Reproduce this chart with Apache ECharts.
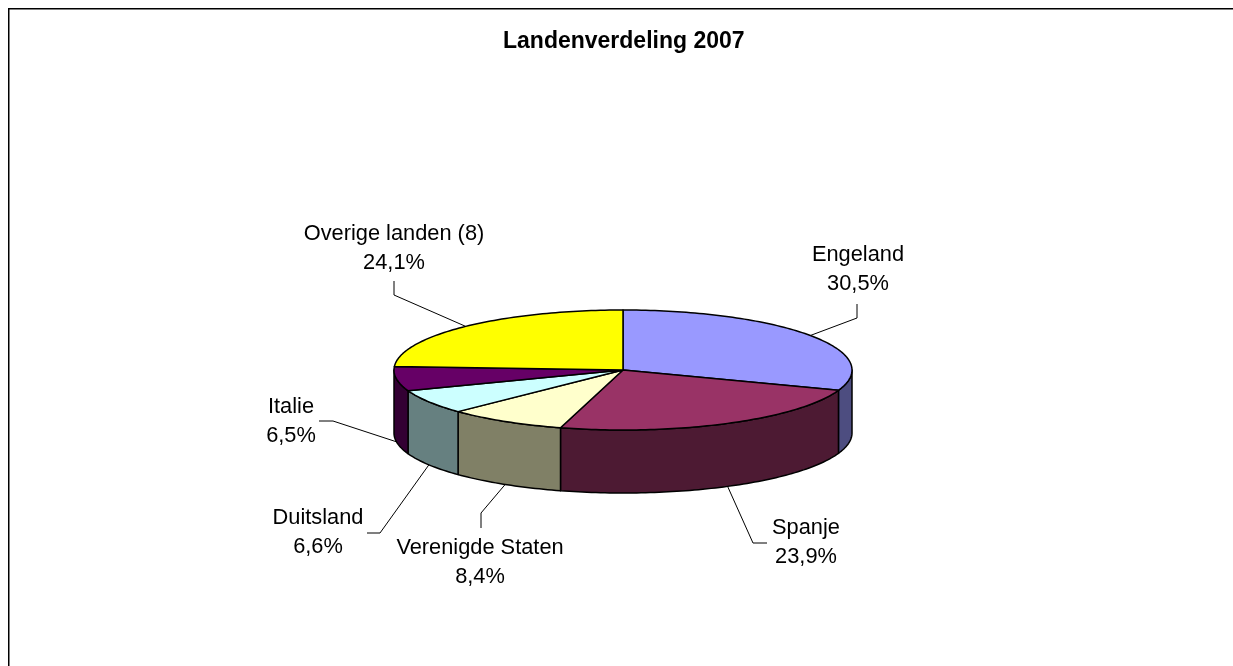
<!DOCTYPE html>
<html>
<head>
<meta charset="utf-8">
<title>Landenverdeling 2007</title>
<script src="https://cdn.jsdelivr.net/npm/echarts@6/dist/echarts.min.js"></script>
<style>
html, body { margin: 0; padding: 0; background: #fff; }
#main { width: 1233px; height: 666px; }
</style>
</head>
<body>
<div id="main"></div>
<script>
// data, clockwise from 12 o'clock
var landen = ['Engeland', 'Spanje', 'Verenigde Staten', 'Duitsland', 'Italie', 'Overige landen (8)'];
var aandelen = [30.5, 23.9, 8.4, 6.6, 6.5, 24.1];

var kleurBoven = ['#9999FF', '#993366', '#FFFFCC', '#CCFFFF', '#660066', '#FFFF00'];
var kleurZij = ['#4D4D80', '#4D1A33', '#808066', '#668080', '#330033', '#808000'];

// pie shape on the page
var cx = 623, cy = 370, rx = 229, ry = 60, dikte = 63;

// label centre and leader line bend/end per slice
var labelPos = [[858, 269], [806, 542], [480, 562], [318, 532], [291, 421], [394, 248]];
var lijnPos = [
    [[857, 318], [857, 304]],
    [[753, 543], [767, 543]],
    [[481, 513], [481, 528]],
    [[380, 533], [367, 533]],
    [[333, 421], [319, 421]],
    [[394, 295], [394, 281]]
];

var totaal = aandelen.reduce(function (a, b) { return a + b; }, 0);
var som = 0;
var rijen = aandelen.map(function (v) {
    var rij = [v, som];
    som += v;
    return rij;
});

function hoek(deel) {
    return deel / totaal * Math.PI * 2;
}

function punt(a, dy) {
    return [cx + rx * Math.sin(a), cy - ry * Math.cos(a) + (dy || 0)];
}

function boog(a, b, dy) {
    var pts = [];
    var n = Math.max(2, Math.ceil((b - a) / 0.02));
    for (var i = 0; i <= n; i++) {
        pts.push(punt(a + (b - a) * i / n, dy));
    }
    return pts;
}

function bovenkant(params, api) {
    var a = hoek(api.value(1));
    var b = hoek(api.value(1) + api.value(0));
    return {
        type: 'polygon',
        shape: { points: [[cx, cy]].concat(boog(a, b)) },
        style: { fill: kleurBoven[params.dataIndex], stroke: '#000', lineWidth: 1.5, lineJoin: 'round' }
    };
}

function zijkant(params, api) {
    // only the front half of the rim can be seen
    var a = Math.max(hoek(api.value(1)), Math.PI / 2);
    var b = Math.min(hoek(api.value(1) + api.value(0)), Math.PI * 1.5);
    if (b <= a) return null;
    return {
        type: 'polygon',
        shape: { points: boog(a, b).concat(boog(a, b, dikte).reverse()) },
        style: { fill: kleurZij[params.dataIndex], stroke: '#000', lineWidth: 1.5, lineJoin: 'round' }
    };
}

function labels(params, api) {
    var i = params.dataIndex;
    var mid = hoek(api.value(1) + api.value(0) / 2);
    var voor = Math.cos(mid) < 0;
    var start = punt(mid, voor ? dikte : 0);
    return {
        type: 'group',
        children: [{
            type: 'polyline',
            shape: { points: [start].concat(lijnPos[i]) },
            style: { fill: null, stroke: '#000', lineWidth: 1 }
        }, {
            type: 'text',
            x: labelPos[i][0],
            y: labelPos[i][1],
            style: {
                text: landen[i] + '\n' + api.value(0).toFixed(1).replace('.', ',') + '%',
                fill: '#000',
                font: '21.8px "Liberation Sans", Arial, sans-serif',
                lineHeight: 29,
                align: 'center',
                verticalAlign: 'middle'
            }
        }]
    };
}

var chart = echarts.init(document.getElementById('main'), null, { renderer: 'canvas' });
var option = {
    animation: false,
    backgroundColor: '#fff',
    title: {
        text: 'Landenverdeling 2007',
        left: 503,
        top: 30,
        padding: 0,
        textStyle: { fontFamily: '"Liberation Sans", Arial, sans-serif', fontWeight: 'bold', fontSize: 23, color: '#000' }
    },
    graphic: [
        { type: 'line', shape: { x1: 8, y1: 8.75, x2: 1233, y2: 8.75 }, style: { stroke: '#000', lineWidth: 1.5 } },
        { type: 'line', shape: { x1: 8.75, y1: 8, x2: 8.75, y2: 666 }, style: { stroke: '#000', lineWidth: 1.5 } }
    ],
    series: [
        { type: 'custom', coordinateSystem: 'none', renderItem: labels, data: rijen, silent: true, z: 1 },
        { type: 'custom', coordinateSystem: 'none', renderItem: zijkant, data: rijen, silent: true, z: 2 },
        { type: 'custom', coordinateSystem: 'none', renderItem: bovenkant, data: rijen, silent: true, z: 3 }
    ]
};
chart.setOption(option);
</script>
</body>
</html>
